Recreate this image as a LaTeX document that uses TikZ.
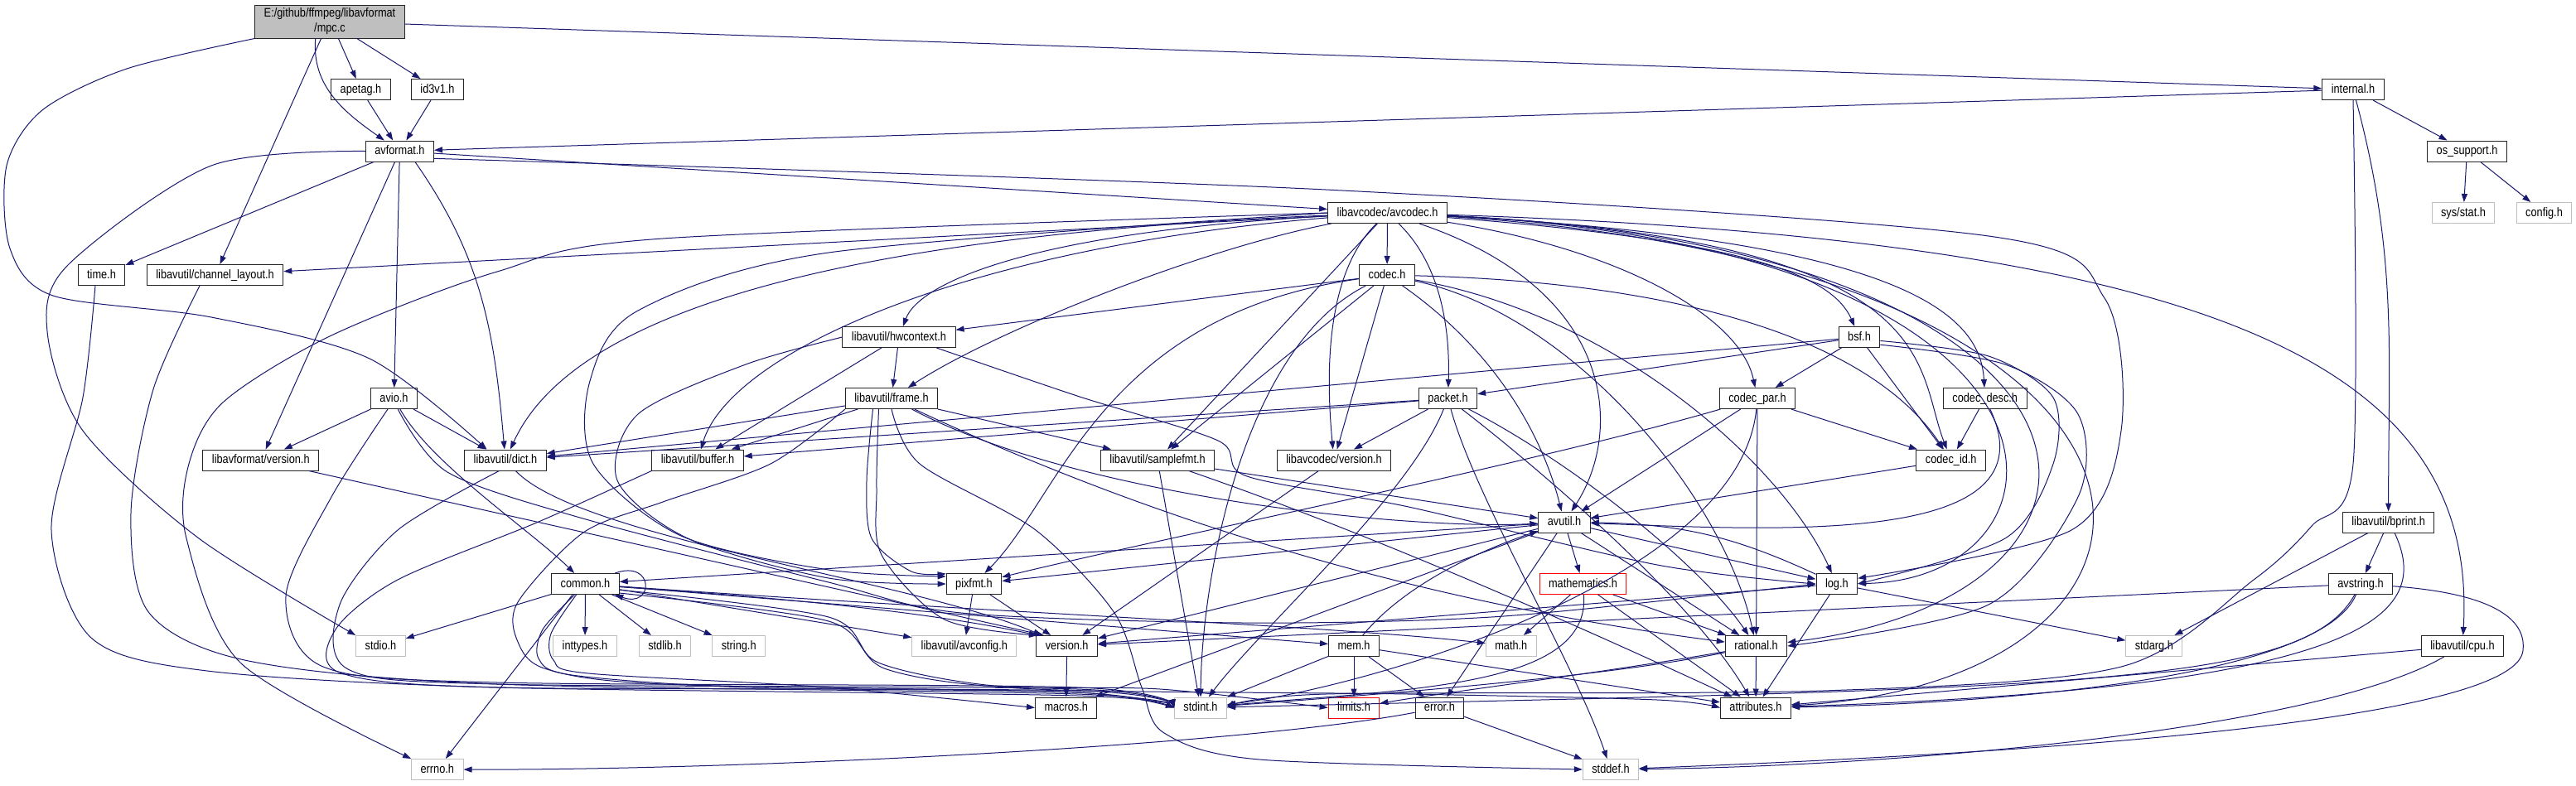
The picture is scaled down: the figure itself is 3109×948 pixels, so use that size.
\documentclass[tikz,border=0pt]{standalone}
\usepackage{fontspec}
\setmainfont{Liberation Sans}[FakeStretch=0.85]
\usepackage{xcolor}
\usepackage{tikz}
\usetikzlibrary{arrows.meta}

\definecolor{edgeblue}{HTML}{191970}
\definecolor{sysgray}{HTML}{BFBFBF}

\tikzset{
  file/.style={draw=black!85, fill=white, line width=1pt, minimum height=25pt,
    inner xsep=11pt, inner ysep=0pt, text height=11pt, text depth=3pt,
    font=\fontsize{15}{18}\selectfont},
  sysfile/.style={file, draw=sysgray},
  cutfile/.style={file, draw=red},
  mainfile/.style={draw=black!85, fill=sysgray, line width=1pt, minimum height=40pt,
    inner xsep=11pt, align=center, font=\fontsize{15}{18}\selectfont},
  incl/.style={draw=edgeblue, line width=1pt, -{Triangle[length=10pt,width=7pt]}},
}

\begin{document}
\begin{tikzpicture}[x=1pt,y=1pt]
\fill[white] (0,0) rectangle (3109,-948);
\useasboundingbox (0,0) rectangle (3109,-948);

\node[mainfile] (mpc) at (398,-26) {E:/github/ffmpeg/libavformat\\/mpc.c};
\node[file] (apetag) at (435.5,-108) {apetag.h};
\node[file] (idthree) at (528,-108) {id3v1.h};
\node[file] (internal) at (2840,-108) {internal.h};
\node[file] (avformat) at (482.4,-182.5) {avformat.h};
\node[file] (ossupport) at (2977.5,-182.5) {os\_support.h};
\node[file] (avcodec) at (1674.5,-257) {libavcodec/avcodec.h};
\node[sysfile] (sysstat) at (2973,-257) {sys/stat.h};
\node[sysfile] (config) at (3070.5,-257) {config.h};
\node[file] (time) at (122.5,-332) {time.h};
\node[file] (chlayout) at (259.6,-332) {libavutil/channel\_layout.h};
\node[file] (codec) at (1674,-332) {codec.h};
\node[file] (hwcontext) at (1085,-407) {libavutil/hwcontext.h};
\node[file] (bsf) at (2244,-407) {bsf.h};
\node[file] (avio) at (475.5,-481) {avio.h};
\node[file] (frame) at (1076,-481) {libavutil/frame.h};
\node[file] (packet) at (1747.5,-481) {packet.h};
\node[file] (codecpar) at (2121,-481) {codec\_par.h};
\node[file] (codecdesc) at (2395.7,-481) {codec\_desc.h};
\node[file] (lavfversion) at (314.8,-555.5) {libavformat/version.h};
\node[file] (dict) at (610,-555.5) {libavutil/dict.h};
\node[file] (buffer) at (842,-555.5) {libavutil/buffer.h};
\node[file] (samplefmt) at (1397,-555.5) {libavutil/samplefmt.h};
\node[file] (lavcversion) at (1610,-555.5) {libavcodec/version.h};
\node[file] (codecid) at (2354.7,-555.5) {codec\_id.h};
\node[file] (avutil) at (1888,-630.5) {avutil.h};
\node[file] (bprint) at (2882.6,-630.5) {libavutil/bprint.h};
\node[file] (common) at (706.5,-705) {common.h};
\node[file] (pixfmt) at (1175.5,-705) {pixfmt.h};
\node[cutfile] (mathematics) at (1910.5,-705) {mathematics.h};
\node[file] (log) at (2216.8,-705) {log.h};
\node[file] (avstring) at (2849,-705) {avstring.h};
\node[sysfile] (stdio) at (459.5,-780) {stdio.h};
\node[sysfile] (inttypes) at (706,-780) {inttypes.h};
\node[sysfile] (stdlib) at (802.5,-780) {stdlib.h};
\node[sysfile] (string) at (891.7,-780) {string.h};
\node[sysfile] (avconfig) at (1163.8,-780) {libavutil/avconfig.h};
\node[file] (version) at (1287.7,-780) {version.h};
\node[file] (mem) at (1634,-780) {mem.h};
\node[sysfile] (math) at (1823.8,-780) {math.h};
\node[file] (rational) at (2119.5,-780) {rational.h};
\node[sysfile] (stdarg) at (2599.8,-780) {stdarg.h};
\node[file] (cpu) at (2972,-780) {libavutil/cpu.h};
\node[file] (macros) at (1286.7,-854.5) {macros.h};
\node[sysfile] (stdint) at (1449,-854.5) {stdint.h};
\node[cutfile] (limits) at (1634,-854.5) {limits.h};
\node[file] (error) at (1737.4,-854.5) {error.h};
\node[file] (attributes) at (2119,-854.5) {attributes.h};
\node[sysfile] (errno) at (527.8,-929) {errno.h};
\node[sysfile] (stddef) at (1944,-929) {stddef.h};

% mpc.c
\draw[incl] (mpc.-63) -- (apetag);
\draw[incl] (mpc.-32) -- (idthree);
\draw[incl] (mpc.-130) to[out=-95,in=145] (avformat);
\draw[incl] (mpc.-117) -- (chlayout);
\draw[incl] plot[smooth] coordinates {(mpc.south west) (153,-83) (51,-133) (8,-200) (12,-300) (64,-357) (255,-383) (446,-433) (dict.150)};
\draw[incl] (mpc) -- (internal);
\draw[incl] (apetag) -- (avformat);
\draw[incl] (idthree) -- (avformat);

% internal.h
\draw[incl] (internal) -- (avformat);
\draw[incl] (internal) -- (ossupport);
\draw[incl] plot[smooth] coordinates {(internal.south) (2840,-560) (2790,-635) (2720,-700) (2560,-805) (2200,-834) (1600,-838) (stdint.east)};
\draw[incl] (internal.-75) to[out=-75,in=90] (bprint);
\draw[incl] (ossupport) -- (sysstat);
\draw[incl] (ossupport) -- (config);

% avformat.h
\draw[incl] (avformat) -- (time);
\draw[incl] plot[smooth] coordinates {(avformat.west) (255,-200) (82,-320) (57,-400) (100,-520) (240,-650) (stdio.north west)};
\draw[incl] (avformat) -- (lavfversion);
\draw[incl] (avformat) -- (avio);
\draw[incl] (avformat.-35) to[out=-55,in=95] (dict);
\draw[incl] (avformat) -- (avcodec);
\draw[incl] plot[smooth] coordinates {(avformat.-12) (1600,-229) (2400,-285) (2540,-360) (2560,-520) (2500,-640) (log.15)};

% libavcodec/avcodec.h
\draw[incl] plot[smooth] coordinates {(avcodec.west) (800,-288) (600,-328) (400,-405) (270,-485) (228,-560) (225,-650) (290,-800) (errno.north west)};
\draw[incl] (avcodec) -- (chlayout);
\draw[incl] (avcodec) .. controls (1000,-285) and (690,-380) .. (dict);
\draw[incl] (avcodec) .. controls (1150,-300) and (880,-430) .. (buffer);
\draw[incl] (avcodec) .. controls (1250,-280) and (1110,-340) .. (hwcontext);
\draw[incl] (avcodec) .. controls (1450,-300) and (1200,-400) .. (frame);
\draw[incl] plot[smooth] coordinates {(avcodec.west) (1000,-305) (770,-375) (712,-460) (716,-560) (822,-647) (1000,-688) (pixfmt.165)};
\draw[incl] (avcodec) -- (samplefmt);
\draw[incl] (avcodec) .. controls (1600,-330) and (1600,-450) .. (lavcversion);
\draw[incl] (avcodec) -- (codec);
\draw[incl] (avcodec) .. controls (1740,-320) and (1750,-400) .. (packet);
\draw[incl] (avcodec) .. controls (1950,-350) and (1960,-520) .. (avutil);
\draw[incl] (avcodec) .. controls (2100,-290) and (2210,-330) .. (bsf);
\draw[incl] (avcodec) .. controls (1950,-300) and (2100,-380) .. (codecpar);
\draw[incl] (avcodec) .. controls (2300,-290) and (2390,-380) .. (codecdesc);
\draw[incl] (avcodec) .. controls (2350,-290) and (2310,-440) .. (codecid);
\draw[incl] (avcodec) .. controls (2550,-300) and (2520,-700) .. (log);
\draw[incl] (avcodec) .. controls (2600,-300) and (2620,-720) .. (rational);
\draw[incl] (avcodec) .. controls (2700,-290) and (2990,-450) .. (cpu);
\draw[incl] (avcodec) .. controls (2700,-320) and (2700,-820) .. (attributes);

% codec.h
\draw[incl] (codec) -- (hwcontext);
\draw[incl] (codec) .. controls (1500,-420) and (1450,-700) .. (stdint);
\draw[incl] (codec) .. controls (1800,-420) and (1860,-520) .. (avutil);
\draw[incl] (codec) .. controls (1950,-380) and (2150,-560) .. (log);
\draw[incl] (codec) .. controls (1330,-380) and (1280,-600) .. (pixfmt);
\draw[incl] (codec) .. controls (1900,-380) and (2080,-600) .. (rational);
\draw[incl] (codec) -- (samplefmt);
\draw[incl] (codec) .. controls (2000,-340) and (2250,-400) .. (codecid);
\draw[incl] (codec) -- (lavcversion);

% libavutil/hwcontext.h
\draw[incl] (hwcontext) -- (buffer);
\draw[incl] (hwcontext) -- (frame);
\draw[incl] plot[smooth] coordinates {(hwcontext.-16) (1300,-478) (1470,-532) (1505,-575) (1700,-612) (2000,-682) (log.west)};
\draw[incl] plot[smooth] coordinates {(hwcontext.west) (900,-440) (770,-500) (745,-580) (830,-650) (1000,-698) (pixfmt.west)};

% libavutil/frame.h
\draw[incl] plot[smooth] coordinates {(frame.south) (1110,-560) (1250,-640) (1345,-740) (1378,-830) (1405,-885) (1520,-917) (stddef.west)};
\draw[incl] plot[smooth] coordinates {(frame.south west) (930,-560) (800,-606) (704,-643) (625,-727) (625,-775) (660,-808) (800,-826) (1300,-836) (stdint.west)};
\draw[incl] (frame) .. controls (1300,-600) and (1700,-640) .. (avutil);
\draw[incl] (frame) -- (buffer);
\draw[incl] (frame) -- (dict);
\draw[incl] (frame) .. controls (1500,-680) and (1850,-745) .. (rational);
\draw[incl] (frame) -- (samplefmt);
\draw[incl] plot[smooth] coordinates {(frame.-150) (1046,-580) (1052,-650) (1100,-690) (pixfmt.160)};
\draw[incl] plot[smooth] coordinates {(frame.-140) (1058,-590) (1064,-670) (1140,-748) (version.160)};

% packet.h
\draw[incl] (packet) .. controls (1780,-600) and (1900,-800) .. (stddef);
\draw[incl] (packet) .. controls (1700,-600) and (1520,-760) .. (stdint);
\draw[incl] (packet) .. controls (1850,-560) and (2040,-720) .. (attributes);
\draw[incl] (packet) -- (buffer);
\draw[incl] (packet) -- (dict);
\draw[incl] (packet) .. controls (1900,-560) and (2050,-680) .. (rational);
\draw[incl] (packet) -- (lavcversion);

% bsf.h
\draw[incl] (bsf) -- (dict);
\draw[incl] (bsf) -- (packet);
\draw[incl] (bsf) -- (codecpar);
\draw[incl] (bsf) -- (codecid);
\draw[incl] plot[smooth] coordinates {(bsf.-10) (2400,-430) (2478,-480) (2478,-560) (2420,-650) (log.east)};
\draw[incl] plot[smooth] coordinates {(bsf.-20) (2420,-440) (2508,-500) (2508,-600) (2400,-730) (rational.east)};

% codec_par.h, codec_desc.h, codec_id.h
\draw[incl] (codecpar) .. controls (2100,-700) and (1650,-830) .. (stdint);
\draw[incl] (codecpar) -- (avutil);
\draw[incl] (codecpar) -- (rational);
\draw[incl] (codecpar) .. controls (1850,-560) and (1400,-650) .. (pixfmt);
\draw[incl] (codecpar) -- (codecid);
\draw[incl] (codecdesc) .. controls (2480,-660) and (2150,-640) .. (avutil);
\draw[incl] (codecdesc) -- (codecid);
\draw[incl] (codecid) -- (avutil);

% libavutil/samplefmt.h, versions
\draw[incl] (samplefmt) -- (stdint);
\draw[incl] (samplefmt) -- (avutil);
\draw[incl] (samplefmt) .. controls (1700,-660) and (2000,-800) .. (attributes);
\draw[incl] (lavcversion) -- (version);
\draw[incl] (lavfversion) -- (version.155);

% dict.h, buffer.h, time.h, channel_layout.h
\draw[incl] plot[smooth] coordinates {(dict.-120) (480,-640) (410,-730) (420,-808) (600,-826) (1300,-832) (stdint.west)};
\draw[incl] (dict) .. controls (700,-650) and (1100,-700) .. (version);
\draw[incl] plot[smooth] coordinates {(buffer.south west) (650,-630) (480,-700) (405,-760) (410,-812) (600,-830) (1300,-834) (stdint.west)};
\draw[incl] plot[smooth] coordinates {(time.-120) (100,-480) (62,-640) (110,-770) (250,-810) (600,-830) (1300,-840) (stdint.west)};
\draw[incl] plot[smooth] coordinates {(chlayout.-145) (185,-470) (158,-620) (180,-740) (300,-798) (600,-826) (1300,-838) (stdint.west)};

% avio.h
\draw[incl] (avio) -- (lavfversion);
\draw[incl] (avio) -- (dict);
\draw[incl] (avio) .. controls (520,-560) and (640,-640) .. (common);
\draw[incl] plot[smooth] coordinates {(avio.-120) (400,-600) (345,-720) (390,-805) (600,-824) (1300,-830) (stdint.west)};
\draw[incl] plot[smooth] coordinates {(avio.-70) (540,-570) (700,-625) (1000,-703) (1160,-740) (1500,-752) (1800,-745) (2100,-715) (log.west)};

% common.h
\draw[incl] (common) -- (stdio);
\draw[incl] (common) -- (inttypes);
\draw[incl] (common) -- (stdlib);
\draw[incl] (common) -- (string);
\draw[incl] (common.-140) -- (errno);
\draw[incl] (common) -- (avconfig);
\draw[incl] (common.-5) .. controls (1000,-725) and (1150,-745) .. (version.160);
\draw[incl] (common) -- (mem);
\draw[incl] (common) .. controls (1200,-740) and (1600,-755) .. (math);
\draw[incl] plot[smooth] coordinates {(common.-135) (655,-760) (650,-795) (690,-815) (900,-830) (1300,-836) (stdint.west)};
\draw[incl] plot[smooth] coordinates {(common.-130) (665,-765) (668,-797) (710,-813) (1000,-830) (macros.west)};
\draw[incl] plot[smooth] coordinates {(common.-10) (1000,-745) (1060,-800) (1200,-828) (1400,-832) (limits.west)};
\draw[incl] plot[smooth] coordinates {(common.-15) (1000,-750) (1070,-808) (1250,-832) (1700,-838) (2000,-845) (attributes.west)};
\draw[incl] (common.20) .. controls (790,-675) and (790,-735) .. (common.-20);

% avutil.h
\draw[incl] (avutil) -- (common);
\draw[incl] (avutil) -- (error);
\draw[incl] (avutil) -- (rational);
\draw[incl] (avutil) -- (version);
\draw[incl] (avutil) -- (macros);
\draw[incl] (avutil) -- (mathematics);
\draw[incl] (avutil) -- (log);
\draw[incl] (avutil) -- (pixfmt);

% log.h, mathematics.h, pixfmt.h, version.h
\draw[incl] (log) to[bend right=12] (avutil);
\draw[incl] (log) -- (stdarg);
\draw[incl] (log) -- (attributes);
\draw[incl] (log) -- (version);
\draw[incl] (mathematics) -- (math);
\draw[incl] (mathematics) .. controls (1920,-830) and (1700,-832) .. (stdint);
\draw[incl] (mathematics) -- (rational);
\draw[incl] (mathematics) -- (attributes);
\draw[incl] (pixfmt) -- (avconfig);
\draw[incl] (pixfmt) -- (version);
\draw[incl] (version) -- (macros);

% mem.h, rational.h, error.h
\draw[incl] (mem) .. controls (1700,-700) and (1800,-660) .. (avutil);
\draw[incl] (mem) -- (stdint);
\draw[incl] (mem) -- (limits);
\draw[incl] (mem) -- (error);
\draw[incl] (mem) -- (attributes);
\draw[incl] (rational) -- (attributes);
\draw[incl] (rational) .. controls (1950,-815) and (1700,-836) .. (stdint);
\draw[incl] (rational) .. controls (1950,-810) and (1750,-835) .. (limits);
\draw[incl] (error) .. controls (1500,-900) and (900,-930) .. (errno);
\draw[incl] (error) -- (stddef);

% avstring.h, bprint.h, cpu.h
\draw[incl] (avstring) -- (version);
\draw[incl] (avstring) .. controls (2990,-715) and (3050,-740) .. (3045,-785) .. controls (3040,-850) and (2700,-900) .. (stddef);
\draw[incl] (avstring) .. controls (2780,-830) and (2500,-830) .. (stdint);
\draw[incl] (avstring) .. controls (2800,-820) and (2400,-850) .. (attributes);
\draw[incl] (bprint) -- (stdarg);
\draw[incl] (bprint) -- (avstring);
\draw[incl] (bprint.-60) .. controls (2935,-740) and (2870,-830) .. (attributes);
\draw[incl] (cpu) -- (attributes);
\draw[incl] (cpu) .. controls (2800,-880) and (2300,-925) .. (stddef);
\end{tikzpicture}
\end{document}
